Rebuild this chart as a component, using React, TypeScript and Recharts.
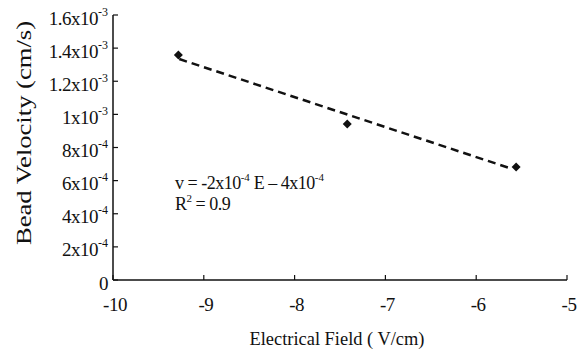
import React from "react";
import { ScatterChart, Scatter, XAxis, YAxis, Customized } from "recharts";

const fieldValues = [-9.28, -7.42, -5.56];
const velocityValues = [0.001358, 0.000942, 0.000682];
const fitField = [-9.27, -5.6];
const fitVelocity = [0.001334, 0.00067];
const xTicks = [-10, -9, -8, -7, -6, -5];
const yTicks = [0, 0.0002, 0.0004, 0.0006, 0.0008, 0.001, 0.0012, 0.0014, 0.0016];
const yTickMantissa = ["0", "2x10", "4x10", "6x10", "8x10", "1x10", "1.2x10", "1.4x10", "1.6x10"];
const yTickExponent = ["", "-4", "-4", "-4", "-4", "-3", "-3", "-3", "-3"];

const points = fieldValues.map((x, i) => ({ x, y: velocityValues[i] }));
const fit = fitField.map((x, i) => ({ x, y: fitVelocity[i] }));

const FONT = '"Liberation Serif", "Times New Roman", Times, "DejaVu Serif", serif';
const INK = "#111";
const serif = { fontFamily: FONT };

const YTick = (props: any) => {
  const { x, y, payload } = props;
  const idx = yTicks.indexOf(payload.value);
  const m = yTickMantissa[idx] ?? String(payload.value);
  const e = yTickExponent[idx] ?? "";
  const ax = x + 5;
  return (
    <g>
      <line x1={ax} x2={ax + 5} y1={y} y2={y} stroke={INK} strokeWidth={1.2} />
      <text x={x} y={y + 9.5} textAnchor="end" style={serif} fontSize={19} fill={INK} letterSpacing={-0.5}>
        <tspan>{m}</tspan>
        {e ? (
          <tspan dy={-9} fontSize={12} letterSpacing={0}>
            {e}
          </tspan>
        ) : null}
      </text>
    </g>
  );
};

const XTick = (props: any) => {
  const { x, y, payload } = props;
  return (
    <g>
      <line x1={x} x2={x} y1={y} y2={y - 5} stroke={INK} strokeWidth={1.2} />
      <text x={x + 2} y={y + 31} textAnchor="middle" style={serif} fontSize={19} fill={INK} letterSpacing={-0.5}>
        {payload.value}
      </text>
    </g>
  );
};

const Diamond = (props: any) => {
  const { cx, cy } = props;
  const r = 4.5;
  return <polygon points={`${cx},${cy - r} ${cx + r},${cy} ${cx},${cy + r} ${cx - r},${cy}`} fill={INK} />;
};

const NoShape = () => <g />;

const Annotations = () => (
  <g style={serif} fill={INK}>
    <text x={337} y={345} textAnchor="middle" style={serif} fontSize={19} textLength={175} lengthAdjust="spacingAndGlyphs">
      Electrical Field ( V/cm)
    </text>
    <text
      x={0}
      y={0}
      transform="translate(31,133) rotate(-90)"
      textAnchor="middle"
      style={serif}
      fontSize={21}
      textLength={224}
      lengthAdjust="spacingAndGlyphs"
    >
      Bead Velocity (cm/s)
    </text>
    <text x={175} y={189} style={serif} fontSize={18} letterSpacing={-0.5}>
      <tspan>v = -2x10</tspan>
      <tspan dy={-8} fontSize={11} letterSpacing={0}>-4</tspan>
      <tspan dy={8}> E – 4x10</tspan>
      <tspan dy={-8} fontSize={11} letterSpacing={0}>-4</tspan>
    </text>
    <text x={175} y={210} style={serif} fontSize={18} letterSpacing={-0.5}>
      <tspan>R</tspan>
      <tspan dy={-8} fontSize={11}>2</tspan>
      <tspan dy={8}> = 0.9</tspan>
    </text>
  </g>
);

export default function App() {
  return (
    <div style={{ position: "absolute", left: 0, top: 0, width: 586, height: 355, background: "#fff" }}>
      <ScatterChart width={586} height={355} margin={{ top: 15, right: 19, left: 0, bottom: 0 }}>
        <XAxis
          type="number"
          dataKey="x"
          domain={[-10, -5]}
          ticks={xTicks}
          interval={0}
          height={75}
          tickSize={0}
          tickMargin={0}
          tick={<XTick />}
          axisLine={{ stroke: INK, strokeWidth: 1.5 }}
          tickLine={false}
          allowDataOverflow
        />
        <YAxis
          type="number"
          dataKey="y"
          domain={[0, 0.0016]}
          ticks={yTicks}
          interval={0}
          width={113}
          tickSize={0}
          tickMargin={5}
          tick={<YTick />}
          axisLine={{ stroke: INK, strokeWidth: 1.5 }}
          tickLine={false}
          allowDataOverflow
        />
        <Scatter
          data={fit}
          line={{ stroke: INK, strokeWidth: 2.5, strokeDasharray: "8 5" }}
          shape={<NoShape />}
          isAnimationActive={false}
        />
        <Scatter data={points} shape={<Diamond />} fill={INK} isAnimationActive={false} />
        <Customized component={Annotations} />
      </ScatterChart>
    </div>
  );
}
